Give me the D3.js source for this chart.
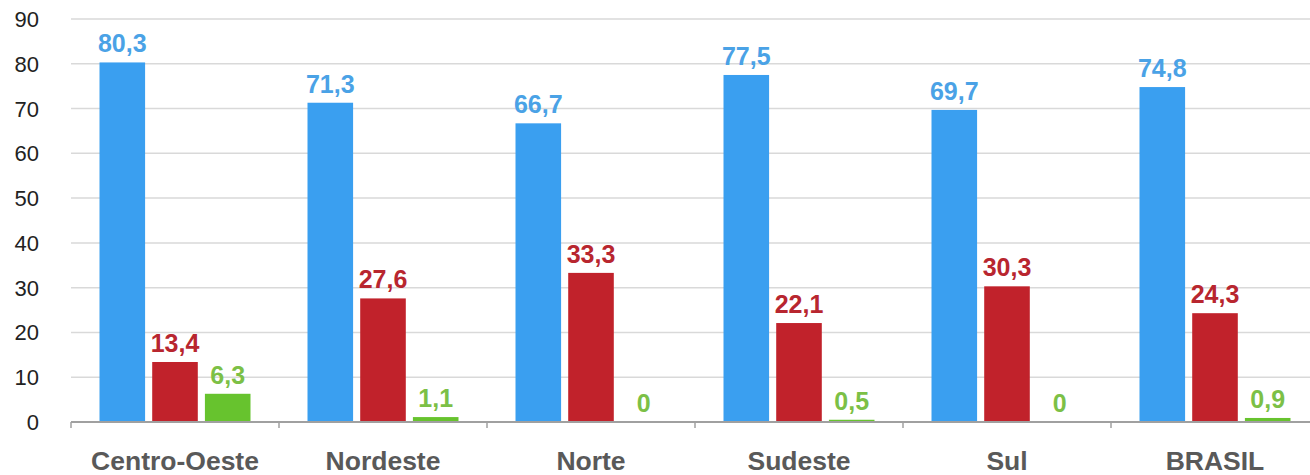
<!DOCTYPE html>
<html><head><meta charset="utf-8">
<script src="https://cdn.jsdelivr.net/npm/d3@7"></script>
<style>body{margin:0;background:#fff;}svg{display:block;}</style>
</head><body>
<svg id="c" width="1310" height="475"></svg>
<script>
const categories = ["Centro-Oeste","Nordeste","Norte","Sudeste","Sul","BRASIL"];
const seriesNames = ["s1","s2","s3"];
const blueValues = [80.3,71.3,66.7,77.5,69.7,74.8];
const redValues = [13.4,27.6,33.3,22.1,30.3,24.3];
const greenValues = [6.3,1.1,0,0.5,0,0.9];
const yTicks = [0,10,20,30,40,50,60,70,80,90];

(function(){
const barColors = ["#3a9ff0","#c1222b","#67c32e"];
const labelColors = ["#4aa2e6","#b8262f","#7cc046"];
const series = [blueValues, redValues, greenValues];

const svg = d3.select("#c");
const mL = 71, mR = 1319, mT = 19, mB = 422;
const x0 = d3.scaleBand().domain(categories).range([mL,mR]).padding(0);
const x1 = d3.scaleBand().domain(seriesNames).range([28.5, x0.bandwidth()-28.5]).paddingInner(0.135).paddingOuter(0);
const y = d3.scaleLinear().domain([0,90]).range([mB, mT]);

// grid
svg.append("g").selectAll("line").data(yTicks.filter(d=>d>0)).join("line")
  .attr("x1", mL).attr("x2", 1310)
  .attr("y1", d=>y(d)).attr("y2", d=>y(d))
  .attr("stroke","#d9d9d9").attr("stroke-width",1.5);

// y labels
svg.append("g").selectAll("text").data(yTicks).join("text")
  .attr("x", 39).attr("y", d=>y(d)+8)
  .attr("text-anchor","end")
  .attr("font-family","Liberation Sans, Arial, sans-serif")
  .attr("font-size",22).attr("fill","#222")
  .text(d=>d);

// bars
const groups = svg.append("g").selectAll("g").data(categories).join("g")
  .attr("transform", d=>`translate(${x0(d)},0)`);
groups.each(function(cat, ci){
  const g = d3.select(this);
  series.forEach((vals, si)=>{
    const v = vals[ci];
    g.append("rect")
      .attr("x", x1(seriesNames[si]))
      .attr("width", x1.bandwidth())
      .attr("y", y(v))
      .attr("height", Math.max(0, y(0)-y(v)))
      .attr("fill", barColors[si]);
    g.append("text")
      .attr("x", x1(seriesNames[si]) + x1.bandwidth()/2)
      .attr("y", y(v) - 10)
      .attr("text-anchor","middle")
      .attr("font-family","Liberation Sans, Arial, sans-serif")
      .attr("font-weight","bold")
      .attr("font-size",25)
      .attr("fill", labelColors[si])
      .text(String(v).replace(".", ","));
  });
});

// axis line
svg.append("line").attr("x1",mL).attr("x2",1310).attr("y1",y(0)).attr("y2",y(0))
  .attr("stroke","#a0a0a0").attr("stroke-width",2);
// ticks at band boundaries
svg.append("g").selectAll("line").data(categories).join("line")
  .attr("x1", d=>x0(d)).attr("x2", d=>x0(d))
  .attr("y1", y(0)).attr("y2", y(0)+6)
  .attr("stroke","#a0a0a0").attr("stroke-width",1.5);

// category labels
svg.append("g").selectAll("text").data(categories).join("text")
  .attr("x", d=>x0(d)+x0.bandwidth()/2)
  .attr("y", 470)
  .attr("text-anchor","middle")
  .attr("font-family","Liberation Sans, Arial, sans-serif")
  .attr("font-weight","bold")
  .attr("font-size",26.5)
  .attr("fill","#595959")
  .text(d=>d);
})();
</script>
</body></html>
